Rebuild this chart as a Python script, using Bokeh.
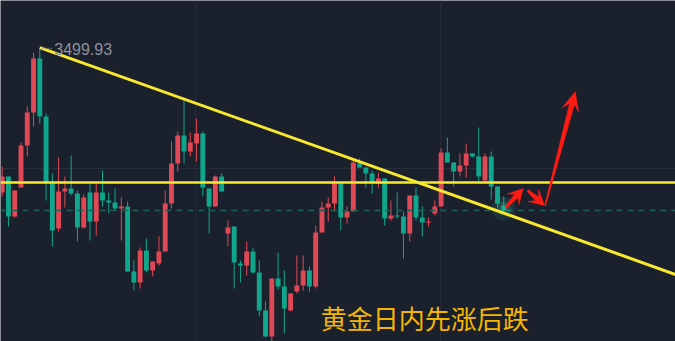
import numpy as np
from bokeh.plotting import figure
from bokeh.models import Range1d, Span
from bokeh.embed import file_html
from bokeh.resources import INLINE
from bokeh.core.properties import value

# ---------------- data (hourly gold candles) ----------------
opens = [3355, 3371, 3331, 3360, 3402, 3435, 3489, 3431, 3365, 3319,
         3356, 3359, 3354, 3320, 3355, 3326, 3355, 3347, 3345, 3339,
         3341, 3276, 3265, 3297, 3277, 3284, 3296, 3344, 3384, 3412,
         3396, 3404, 3414, 3359, 3341, 3371, 3314, 3321, 3284, 3282,
         3296, 3275, 3237, 3211, 3269, 3261, 3237, 3256, 3262, 3277,
         3261, 3315, 3340, 3344, 3364, 3330, 3336, 3384, 3380, 3374,
         3364, 3369, 3329, 3332, 3331, 3314, 3352, 3330, 3325, 3334,
         3341, 3395, 3385, 3376, 3382, 3394, 3391, 3367, 3391, 3361,
         3342]
closes = [3371, 3331, 3357, 3402, 3435, 3489, 3431, 3365, 3317, 3356,
          3359, 3354, 3320, 3350, 3326, 3355, 3347, 3345, 3339, 3341,
          3276, 3265, 3297, 3277, 3286, 3296, 3344, 3384, 3412, 3396,
          3405, 3414, 3360, 3341, 3371, 3356, 3320, 3285, 3282, 3296,
          3275, 3237, 3211, 3269, 3261, 3239, 3254, 3262, 3277, 3261,
          3315, 3340, 3344, 3364, 3330, 3336, 3385, 3380, 3374, 3365,
          3369, 3329, 3332, 3331, 3314, 3352, 3330, 3325, 3326, 3341,
          3395, 3385, 3376, 3382, 3394, 3391, 3371, 3391, 3361, 3344,
          3337]
highs = [3381, 3371, 3357, 3405, 3441, 3495, 3499.93, 3434, 3374, 3390,
         3371, 3392, 3357, 3353, 3364, 3364, 3377, 3355, 3359, 3350,
         3346, 3287, 3300, 3309, 3286, 3311, 3357, 3406, 3416, 3447,
         3415, 3429, 3416, 3359, 3372, 3374, 3327, 3321, 3287, 3306,
         3300, 3287, 3246, 3269, 3295, 3277, 3254, 3292, 3292, 3281,
         3322, 3346, 3350, 3371, 3365, 3341, 3388, 3389, 3380, 3377,
         3375, 3369, 3347, 3355, 3336, 3352, 3360, 3341, 3330, 3347,
         3399, 3410, 3385, 3394, 3404, 3394, 3420, 3394, 3396, 3361,
         3351]
lows = [3351, 3321, 3330, 3360, 3391, 3421, 3424, 3347, 3301, 3316,
        3340, 3352, 3306, 3319, 3307, 3312, 3341, 3334, 3337, 3307,
        3276, 3257, 3259, 3275, 3271, 3282, 3296, 3339, 3376, 3384,
        3391, 3386, 3351, 3314, 3341, 3355, 3301, 3259, 3265, 3272,
        3274, 3231, 3210, 3206, 3258, 3214, 3236, 3254, 3257, 3256,
        3259, 3315, 3326, 3336, 3317, 3324, 3336, 3380, 3360, 3354,
        3360, 3322, 3327, 3329, 3289, 3306, 3327, 3311, 3321, 3332,
        3341, 3385, 3361, 3371, 3370, 3390, 3366, 3367, 3348, 3340,
        3335]

peak_label = "3499.93"
peak_index = 6
peak_price = 3499.93
trend_end_x = 107.4
trend_end_price = 3273
hline_price = 3365
last_price = 3337
grid_x = [30.85, 69.9]
grid_price = [3379]

# arrows: start/end in (candle index, price)
arrow_x0 = [80.3, 83.8, 86.6]
arrow_y0 = [3340, 3357, 3342]
arrow_x1 = [83.1, 86.5, 91.4]
arrow_y1 = [3359, 3342, 3456]

title_text = "黄金日内先涨后跌"

# ---------------- styling ----------------
BG = "#1b202d"
GRID = "#272d3b"
UP = "#e04855"
DOWN = "#0fa68b"
YELLOW = "#f8e82e"
ARROW = "#ff1a12"

PX = 6.27  # pixels per candle
x_lo = -0.27
x_hi = x_lo + 675 / PX
y_hi = 3547
y_lo = y_hi - 341

p = figure(width=675, height=341, x_range=Range1d(x_lo, x_hi),
           y_range=Range1d(y_lo, y_hi), output_backend="svg",
           toolbar_location=None, x_axis_type=None, y_axis_type=None,
           min_border=0, background_fill_color=BG, border_fill_color=BG,
           outline_line_color=None)

for gx in grid_x:
    p.add_layout(Span(location=gx, dimension="height", line_color=GRID,
                      line_width=1, level="underlay"))
for gy in grid_price:
    p.add_layout(Span(location=gy, dimension="width", line_color=GRID,
                      line_width=1, level="underlay"))

idx = np.arange(len(opens))
o = np.array(opens, dtype=float)
c = np.array(closes, dtype=float)
h = np.array(highs, dtype=float)
l = np.array(lows, dtype=float)
colors = [UP if cc >= oo else DOWN for oo, cc in zip(o, c)]
top = np.maximum(o, c)
bot = np.minimum(o, c)
bot = np.where(top - bot < 1, top - 1, bot)

p.segment(x0=idx, y0=l, x1=idx, y1=h, line_color=colors, line_width=1)
p.vbar(x=idx, width=0.78, top=top, bottom=bot, fill_color=colors,
       line_color=None)

# dashed last price line
p.line([x_lo, x_hi], [last_price, last_price], line_color="#1f5f57",
       line_width=1.5, line_dash="6 5")

# glow at last candle
p.scatter([idx[-1]], [last_price + 2], size=24, fill_color="#2fe0b8",
          fill_alpha=0.10, line_color=None)
p.scatter([idx[-1]], [last_price + 2], size=14, fill_color="#2fe0b8",
          fill_alpha=0.18, line_color=None)

# yellow lines
p.line([x_lo, x_hi], [hline_price, hline_price], line_color=YELLOW,
       line_width=2.5)
p.line([peak_index, trend_end_x], [peak_price, trend_end_price],
       line_color=YELLOW, line_width=3)

# arrows (tapered shaft + barbed head)
def arrow_patch(x0, y0, x1, y1, w0, w1, hl, hw, notch):
    P0 = np.array([x0 * PX, y0])
    P1 = np.array([x1 * PX, y1])
    d = P1 - P0
    d = d / np.linalg.norm(d)
    n = np.array([-d[1], d[0]])
    J = P1 - d * (hl - notch)
    B = P1 - d * hl
    pts = [P0 + n * w0 / 2, J + n * w1 / 2, B + n * hw / 2, P1,
           B - n * hw / 2, J - n * w1 / 2, P0 - n * w0 / 2]
    return [pt[0] / PX for pt in pts], [pt[1] for pt in pts]

styles = [(2, 5, 15, 16, 5), (2, 5, 15, 16, 5), (1, 5, 19, 17, 6)]
xs_list, ys_list = [], []
for (ax0, ay0, ax1, ay1, st) in zip(arrow_x0, arrow_y0, arrow_x1, arrow_y1, styles):
    xs, ys = arrow_patch(ax0, ay0, ax1, ay1, *st)
    xs_list.append(xs)
    ys_list.append(ys)
p.patches(xs_list, ys_list, fill_color=ARROW, line_color=ARROW, line_width=0.5)

# peak label
p.line([peak_index + 0.3, peak_index + 2.0], [peak_price - 1, peak_price - 1],
       line_color="#8b909d", line_width=1.5, line_dash="1 2")
p.text([peak_index + 2.3], [peak_price - 1.5], text=[peak_label],
       text_color="#8b909d", text_font=value("Liberation Sans"),
       text_font_size="16px", text_align="left", text_baseline="middle")

# caption
p.text([50.8], [3230], text=[title_text], text_color="#f6b600",
       text_font=value("Noto Sans CJK SC"), text_font_size="26px",
       text_align="left", text_baseline="middle")

open("out.html", "w").write(file_html(p, INLINE))
